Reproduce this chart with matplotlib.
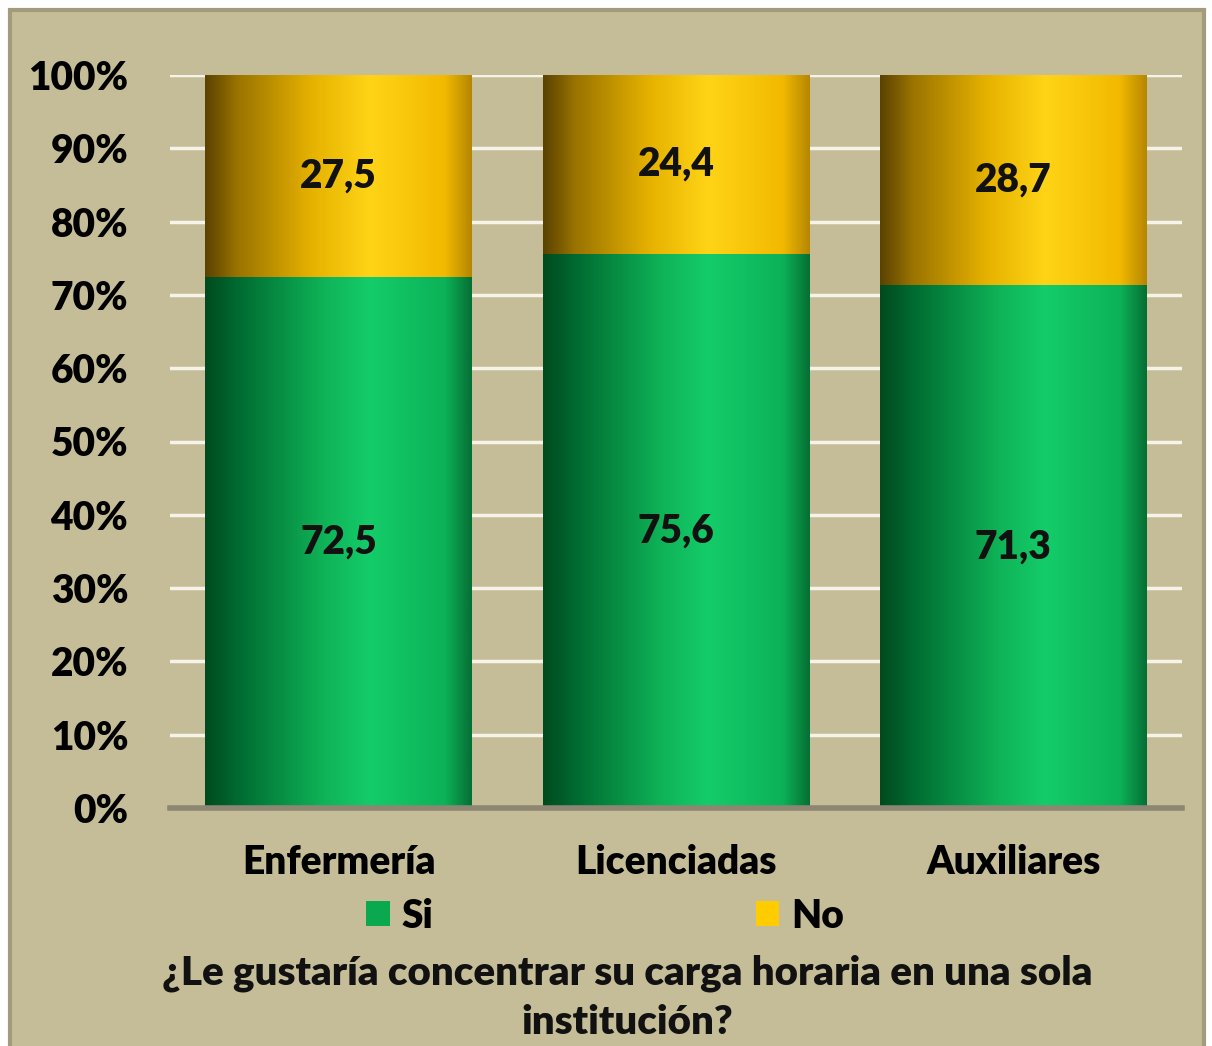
import numpy as np
import matplotlib.pyplot as plt
from matplotlib.colors import LinearSegmentedColormap
from matplotlib.patches import Rectangle

categorias = ['Enfermería', 'Licenciadas', 'Auxiliares']
si = [72.5, 75.6, 71.3]
no = [27.5, 24.4, 28.7]
etiquetas_si = ['72,5', '75,6', '71,3']
etiquetas_no = ['27,5', '24,4', '28,7']
y_ticks = [0, 10, 20, 30, 40, 50, 60, 70, 80, 90, 100]
titulo = '¿Le gustaría concentrar su carga horaria en una sola\ninstitución?'

plt.rcParams['font.family'] = ['Lato', 'DejaVu Sans']
plt.rcParams['font.weight'] = 'heavy'

verde = LinearSegmentedColormap.from_list('verde', [
    (0.0, '#004a1e'), (0.12, '#006a30'), (0.45, '#0fb458'),
    (0.62, '#14cc6a'), (0.9, '#0cb257'), (1.0, '#066f34')])
amarillo = LinearSegmentedColormap.from_list('amarillo', [
    (0.0, '#5a4200'), (0.12, '#9a7300'), (0.4, '#e6b200'),
    (0.62, '#ffd416'), (0.9, '#f2b900'), (1.0, '#b58700')])

fig = plt.figure(figsize=(12.12, 10.46), dpi=100)
fig.patch.set_facecolor('white')
fig.patches.append(Rectangle((10 / 1212, -0.05), 1194 / 1212, 1 - 10 / 1046 + 0.05,
                             transform=fig.transFigure, facecolor='#c5bd98',
                             edgecolor='#a39c7c', linewidth=3, zorder=-5))

ax = fig.add_axes([170 / 1212, 1 - 808 / 1046, 1012 / 1212, 733 / 1046])
ax.set_facecolor('none')

x = np.arange(len(categorias))
grad = np.linspace(0, 1, 256).reshape(1, -1)
barras_si = ax.bar(x, si, width=0.79, color='#0aa84f', zorder=2)
barras_no = ax.bar(x, no, width=0.79, bottom=si, color='#ffcc00', zorder=2)
for barras, cmap in [(barras_si, verde), (barras_no, amarillo)]:
    for b in barras:
        bx, by = b.get_x(), b.get_y()
        im = ax.imshow(grad, cmap=cmap, aspect='auto', zorder=3,
                       extent=[bx, bx + b.get_width(), by, by + b.get_height()])
        im.set_clip_path(b)

for i in range(len(categorias)):
    ax.text(x[i], si[i] / 2, etiquetas_si[i], ha='center', va='center',
            fontsize=28, color='#111111', zorder=5)
    ax.text(x[i], si[i] + no[i] / 2, etiquetas_no[i], ha='center', va='center',
            fontsize=28, color='#111111', zorder=5)

ax.set_xlim(-0.5, 2.5)
ax.set_ylim(0, 100)
ax.set_yticks(y_ticks)
ax.set_yticklabels([f'{t}%' for t in y_ticks], fontsize=28)
ax.set_xticks(x)
ax.set_xticklabels(categorias, fontsize=28)
ax.tick_params(axis='y', length=0, pad=30)
ax.tick_params(axis='x', length=0, pad=26)
for t in y_ticks[1:]:
    ax.axhline(t, color='#f6f3e8', linewidth=2.5, zorder=1)
for s in ['left', 'right', 'top']:
    ax.spines[s].set_visible(False)
ax.spines['bottom'].set_color('#8c8672')
ax.spines['bottom'].set_linewidth(4)
ax.spines['bottom'].set_zorder(4)

h_si = Rectangle((0, 0), 1, 1, facecolor='#0aa84f')
h_no = Rectangle((0, 0), 1, 1, facecolor='#ffcc00')
fig.legend([h_si, h_no], ['Si', 'No'], loc='center', bbox_to_anchor=(605 / 1212, 1 - 916 / 1046),
           ncol=2, frameon=False, fontsize=28, handlelength=0.6, handleheight=0.6,
           handletextpad=0.3, columnspacing=8.3)

fig.text(627 / 1212, 1 - 955 / 1046, titulo, ha='center', va='top', fontsize=29,
         linespacing=1.4, color='#111111')

fig.savefig('out.png', dpi=100)
